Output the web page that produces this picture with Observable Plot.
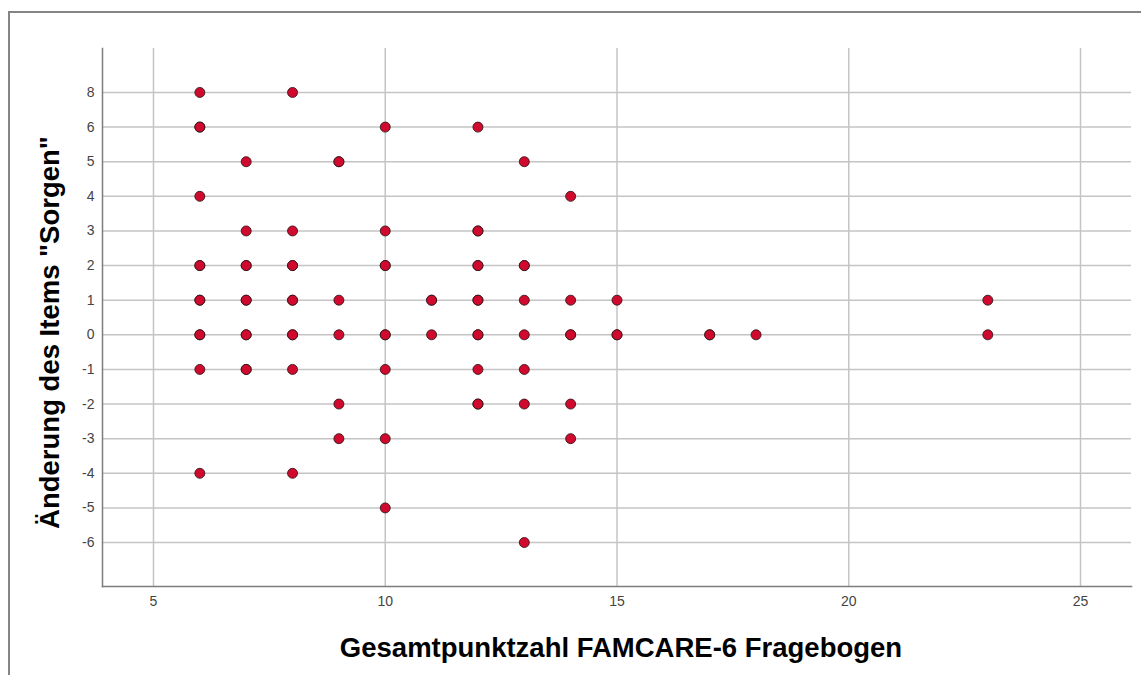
<!DOCTYPE html>
<html>
<head>
<meta charset="utf-8">
<script src="https://cdn.jsdelivr.net/npm/d3@7"></script>
<script src="https://cdn.jsdelivr.net/npm/@observablehq/plot@0.6"></script>
<style>
  html, body { margin: 0; padding: 0; background: #fff; overflow: hidden; }
  #wrap { position: relative; width: 1141px; height: 675px; }
  #border { position: absolute; left: 8px; top: 11px; width: 1300px; height: 900px;
            border-left: 2px solid #858585; border-top: 2px solid #858585; pointer-events: none; }
  #chart { position: absolute; left: 0; top: 0; }
</style>
</head>
<body>
<div id="wrap"><div id="chart"></div><div id="border"></div></div>
<script>
// Data: FAMCARE-6 total score (x) vs change in item "Sorgen" (y)
const xValues = [6,6,6,6,6,6,6,6,6,6,6,6,
  7,7,7,7,7,7,7,7,7,7,
  8,8,8,8,8,8,8,8,8,8,
  9,9,9,9,9,9,
  10,10,10,10,10,10,10,10,10,
  11,11,11,
  12,12,12,12,12,12,12,12,12,12,12,12,
  13,13,13,13,13,13,13,13,
  14,14,14,14,14,14,
  15,15,15,
  17,17,
  18,
  23,23];
const yValues = [8,6,6,4,2,2,1,1,0,0,-1,-4,
  5,3,2,2,1,1,0,0,-1,-1,
  8,3,2,2,1,1,0,0,-1,-4,
  5,5,1,0,-2,-3,
  6,3,2,2,0,0,-1,-3,-5,
  1,1,0,
  6,3,3,2,2,1,1,0,0,-1,-2,-2,
  5,2,2,1,0,-1,-2,-6,
  4,1,0,0,-2,-3,
  1,0,0,
  0,0,
  0,
  1,0];
const yCategories = [8,6,5,4,3,2,1,0,-1,-2,-3,-4,-5,-6];
const xTicks = [5,10,15,20,25];
const xTitle = "Gesamtpunktzahl FAMCARE-6 Fragebogen";
const yTitle = "Änderung des Items \"Sorgen\"";

const points = xValues.map((x, i) => ({x, y: yValues[i]}));

const chart = Plot.plot({
  width: 1141,
  height: 675,
  marginLeft: 102,
  marginRight: 10,
  marginTop: 48,
  marginBottom: 89,
  style: {fontFamily: "'Liberation Sans', Arial, sans-serif", fontSize: "14px", color: "#444", background: "transparent"},
  x: {domain: [3.9, 26.1]},
  y: {type: "point", domain: yCategories, padding: 1.27, round: false},
  marks: [
    Plot.gridX(xTicks, {stroke: "#c4c4c4", strokeOpacity: 1, strokeWidth: 1.5}),
    Plot.gridY(yCategories, {stroke: "#c4c4c4", strokeOpacity: 1, strokeWidth: 1.5}),
    Plot.axisX(xTicks, {tickSize: 0, tickPadding: 10, label: null, fill: "#444", fontSize: 14}),
    Plot.axisY(yCategories, {tickSize: 0, tickPadding: 8, label: null, fill: "#444", fontSize: 14}),
    Plot.frame({anchor: "left", stroke: "#7d7d7d", strokeWidth: 1.5}),
    Plot.frame({anchor: "bottom", stroke: "#7d7d7d", strokeWidth: 1.5}),
    Plot.dot(points, {x: "x", y: "y", r: 5, fill: "#d00a2e", stroke: "#2e1616", strokeWidth: 1, strokeOpacity: 0.85}),
    Plot.text([xTitle], {text: d => d, frameAnchor: "bottom", dx: 4, dy: 62, fontSize: 27.5, fontWeight: "bold", fill: "#000", textAnchor: "middle", lineAnchor: "middle"}),
    Plot.text([yTitle], {text: d => d, frameAnchor: "left", dx: -52, dy: 15, rotate: -90, fontSize: 27.5, fontWeight: "bold", fill: "#000", textAnchor: "middle", lineAnchor: "middle"})
  ]
});
document.getElementById("chart").appendChild(chart);
</script>
</body>
</html>
